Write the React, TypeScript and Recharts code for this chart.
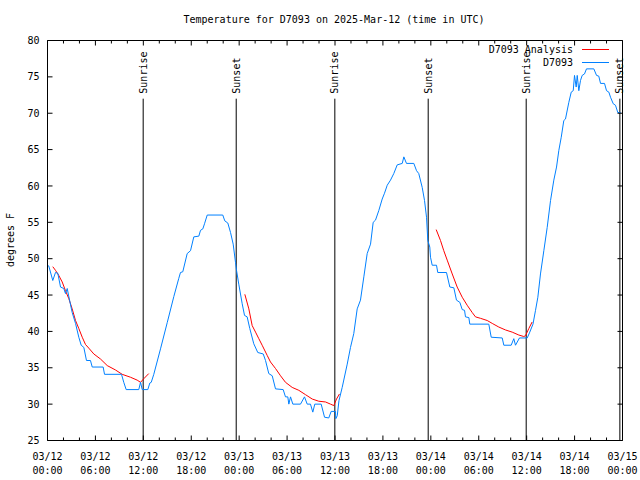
import React from "react";
import { LineChart, Line, XAxis, YAxis, ReferenceLine } from "recharts";

// hours since 03/12 00:00 UTC, temperature in degrees F
const stationHours = [
  0.0, 0.16, 0.66, 1.0, 1.29, 1.63, 2.04, 2.25, 2.47, 2.63, 3.09, 3.51, 3.92, 4.22, 4.55, 4.88, 5.38, 5.6,
  6.97, 7.14, 9.27, 9.55, 9.85, 11.43, 11.65, 11.86, 12.56, 12.81, 12.99, 13.31, 14.15, 14.99, 15.82, 16.44,
  16.65, 16.94, 17.49, 17.91, 18.32, 18.95, 19.16, 19.45, 19.66, 20.0, 21.95, 22.2, 22.58, 22.92, 23.25,
  23.54, 23.67, 23.95, 24.38, 24.67, 25.0, 25.33, 25.83, 26.33, 27.01, 27.3, 27.71, 28.14, 28.55, 29.51,
  29.8, 30.09, 30.22, 30.43, 30.72, 31.68, 32.18, 32.52, 32.93, 33.22, 33.47, 34.27, 34.69, 35.22, 35.52,
  36.06, 36.1, 36.28, 36.5, 36.9, 37.53, 37.94, 38.35, 38.78, 39.19, 39.61, 40.03, 40.45, 40.78, 41.07,
  41.48, 41.91, 42.2, 42.54, 42.95, 43.36, 43.79, 44.42, 44.62, 44.95, 45.87, 46.21, 46.49, 46.92, 47.21,
  47.46, 47.62, 47.87, 47.96, 48.17, 48.71, 48.87, 49.96, 50.38, 50.88, 51.21, 51.63, 51.93, 52.22, 52.34,
  52.76, 52.88, 55.26, 55.56, 56.94, 57.14, 58.06, 58.39, 58.6, 59.1, 60.07, 60.39, 60.79, 61.11, 61.4,
  61.73, 62.15, 62.57, 62.99, 63.4, 63.74, 64.03, 64.33, 64.65, 64.86, 65.28, 65.58, 65.83, 65.99, 66.2,
  66.33, 66.53, 66.74, 66.95, 67.24, 67.49, 68.41, 68.75, 69.03, 69.25, 69.75, 70.0, 70.29, 70.5, 70.84,
  71.12, 71.41, 71.75,
];
const stationTemps = [
  49.1, 49.0, 47.0, 48.1, 48.0, 46.1, 45.9, 45.2, 45.9, 45.0, 42.6, 41.1, 39.2, 38.1, 37.8, 36.0, 36.0, 35.1,
  35.1, 34.1, 34.1, 33.0, 32.0, 32.0, 33.0, 32.0, 32.0, 32.9, 33.0, 34.1, 37.6, 41.2, 44.8, 47.3,
  48.1, 48.2, 50.7, 51.1, 53.0, 53.1, 53.9, 54.1, 54.8, 56.0, 56.0, 55.2, 54.9, 53.6, 52.0,
  49.5, 48.4, 46.5, 43.8, 42.2, 42.0, 40.4, 38.3, 37.1, 36.9, 36.0, 34.2, 33.9, 32.1, 32.0,
  31.0, 31.0, 30.0, 31.0, 30.0, 30.0, 31.0, 30.0, 30.0, 28.9, 30.0, 30.0, 28.2, 28.1, 29.0,
  29.0, 28.0, 28.4, 30.5, 32.3, 35.5, 37.8, 39.7, 43.1, 44.3, 47.5, 50.7, 52.0, 55.0, 55.3,
  56.6, 58.2, 59.0, 60.1, 60.8, 61.7, 62.9, 63.1, 64.0, 63.1, 63.1, 62.1, 61.7, 59.8, 58.0,
  55.7, 52.5, 51.6, 50.2, 49.1, 49.1, 48.1, 48.1, 46.1, 46.0, 44.3, 44.0, 43.0, 42.9, 42.0,
  41.9, 41.0, 41.0, 39.2, 39.1, 38.1, 38.1, 39.0, 38.1, 39.1, 39.1, 39.9, 41.0, 42.9, 44.7,
  47.9, 51.1, 54.3, 58.0, 60.8, 62.6, 64.9, 66.7, 69.0, 69.2, 71.5, 72.9, 73.1, 75.2, 73.6,
  75.2, 73.1, 74.5, 75.2, 75.4, 76.1, 76.1, 75.2, 75.1, 74.1, 74.1, 73.1, 72.9, 72.2, 71.3,
  71.1, 70.1, 70.1,
];

// analysis runs, one per night
const analysisHours1 = [
  0.66, 1.0, 1.41, 1.84, 2.25, 2.67, 3.09, 3.51, 3.92, 4.35, 4.76, 5.17, 5.8, 6.64, 7.48, 8.51, 9.35, 10.39,
  11.23, 11.65, 12.06, 12.68,
];
const analysisTemps1 = [
  48.9, 48.4, 47.7, 46.8, 45.6, 44.5, 43.1, 41.5, 40.4, 39.2, 38.2, 37.7, 36.9, 36.2, 35.3, 34.7, 34.1, 33.7,
  33.3, 33.0, 33.5, 34.2,
];
const analysisHours2 = [
  24.71, 25.21, 25.63, 26.05, 26.46, 26.88, 27.51, 27.92, 28.55, 29.18, 29.8, 30.64, 31.47, 32.31, 33.15,
  33.97, 34.81, 35.44, 35.85, 36.19, 36.56,
];
const analysisTemps2 = [
  45.1, 43.1, 40.8, 39.9, 39.0, 38.1, 36.7, 35.8, 34.9, 33.9, 33.0, 32.3, 31.9, 31.3, 30.7,
  30.4, 30.3, 30.0, 29.8, 30.7, 31.4,
];
const analysisHours3 = [
  48.67, 49.21, 49.62, 50.05, 50.68, 51.3, 51.93, 52.55, 53.18, 53.59, 54.22, 55.06, 55.69, 56.51, 57.35,
  58.19, 59.02, 59.64, 59.85, 60.27, 60.69,
];
const analysisTemps3 = [
  54.0, 52.5, 51.1, 49.8, 47.9, 46.1, 44.7, 43.6, 42.6, 42.0, 41.8, 41.5, 41.1, 40.6, 40.2,
  39.9, 39.5, 39.3, 39.4, 40.4, 41.3,
];

const sunHours = [11.98, 23.63, 35.98, 47.67, 59.94, 71.67];
const sunLabels = ["Sunrise", "Sunset", "Sunrise", "Sunset", "Sunrise", "Sunset"];

const xTicks = [
  0, 2, 4, 6, 8, 10, 12, 14, 16, 18, 20, 22, 24, 26, 28, 30, 32, 34, 36, 38, 40, 42, 44, 46, 48, 50, 52, 54,
  56, 58, 60, 62, 64, 66, 68, 70, 72,
];
const yTicks = [25, 30, 35, 40, 45, 50, 55, 60, 65, 70, 75, 80];

const FONT = "DejaVu Sans Mono";
const BLUE = "#0080ff";
const RED = "#ff0000";
const MAJOR = 5;
const MINOR = 3;

const rows = (hours: number[], temps: number[]) => hours.map((h, i) => ({ h, t: temps[i] }));

const stationData = rows(stationHours, stationTemps);
const analysisSegments = [
  rows(analysisHours1, analysisTemps1),
  rows(analysisHours2, analysisTemps2),
  rows(analysisHours3, analysisTemps3),
];

function timeLabel(h: number): [string, string] {
  const day = 12 + Math.floor(h / 24);
  const hh = h % 24;
  return [`03/${day}`, `${String(hh).padStart(2, "0")}:00`];
}

const BottomTick = (props: any) => {
  const { x, y, payload } = props;
  const v = payload.value as number;
  const major = v % 6 === 0;
  const [d, t] = timeLabel(v);
  return (
    <g>
      <line x1={x} x2={x} y1={y} y2={y - (major ? MAJOR : MINOR)} stroke="#000" />
      {major && (
        <text x={x} y={y + 19} textAnchor="middle" fontFamily={FONT} fontSize={10} fill="#000">
          {d}
        </text>
      )}
      {major && (
        <text x={x} y={y + 33} textAnchor="middle" fontFamily={FONT} fontSize={10} fill="#000">
          {t}
        </text>
      )}
    </g>
  );
};

const TopTick = (props: any) => {
  const { x, y, payload } = props;
  const major = (payload.value as number) % 6 === 0;
  return <line x1={x} x2={x} y1={y} y2={y + (major ? MAJOR : MINOR)} stroke="#000" />;
};

const LeftTick = (props: any) => {
  const { x, y, payload } = props;
  return (
    <g>
      <line x1={x} x2={x + MAJOR} y1={y} y2={y} stroke="#000" />
      <text x={x - 8} y={y} dy="0.36em" textAnchor="end" fontFamily={FONT} fontSize={10} fill="#000">
        {payload.value}
      </text>
    </g>
  );
};

const RightTick = (props: any) => {
  const { x, y } = props;
  return <line x1={x} x2={x - MAJOR} y1={y} y2={y} stroke="#000" />;
};

const sunLabel = (text: string) => (props: any) => {
  const vb = props.viewBox || {};
  const x = vb.x ?? 0;
  const y = (vb.y ?? 0) - 5;
  return (
    <text
      x={x}
      y={y}
      transform={`rotate(-90 ${x} ${y})`}
      textAnchor="start"
      dominantBaseline="central"
      fontFamily={FONT}
      fontSize={10}
      fill="#000"
    >
      {text}
    </text>
  );
};

export default function App() {
  return (
    <div style={{ position: "absolute", left: 0, top: 0, width: 640, height: 480, background: "#fff" }}>
      <LineChart width={640} height={480} margin={{ top: 0, right: 0, bottom: 0, left: 0 }}>
        <XAxis
          dataKey="h"
          type="number"
          domain={[0, 72]}
          ticks={xTicks}
          interval={0}
          height={39.5}
          tickSize={0}
          tickMargin={0}
          tickLine={false}
          axisLine={{ stroke: "#000" }}
          tick={BottomTick}
          allowDataOverflow
        />
        <XAxis
          xAxisId="top"
          orientation="top"
          dataKey="h"
          type="number"
          domain={[0, 72]}
          ticks={xTicks}
          interval={0}
          height={40.5}
          tickSize={0}
          tickMargin={0}
          tickLine={false}
          axisLine={{ stroke: "#000" }}
          tick={TopTick}
          allowDataOverflow
        />
        <YAxis
          type="number"
          domain={[25, 80]}
          ticks={yTicks}
          interval={0}
          width={47.5}
          tickSize={0}
          tickMargin={0}
          tickLine={false}
          axisLine={{ stroke: "#000" }}
          tick={LeftTick}
          allowDataOverflow
        />
        <YAxis
          yAxisId="right"
          orientation="right"
          type="number"
          domain={[25, 80]}
          ticks={yTicks}
          interval={0}
          width={17.5}
          tickSize={0}
          tickMargin={0}
          tickLine={false}
          axisLine={{ stroke: "#000" }}
          tick={RightTick}
          allowDataOverflow
        />
        {sunHours.map((h, i) => (
          <ReferenceLine
            key={`sun-${i}`}
            segment={[
              { x: h, y: 25 },
              { x: h, y: 72 },
            ]}
            stroke="#000"
            strokeWidth={1}
            label={sunLabel(sunLabels[i])}
          />
        ))}
        {analysisSegments.map((seg, i) => (
          <Line
            key={`analysis-${i}`}
            data={seg}
            dataKey="t"
            type="linear"
            stroke={RED}
            strokeWidth={1}
            dot={false}
            isAnimationActive={false}
          />
        ))}
        <Line
          data={stationData}
          dataKey="t"
          type="linear"
          stroke={BLUE}
          strokeWidth={1}
          dot={false}
          isAnimationActive={false}
        />
      </LineChart>
      <svg
        width={640}
        height={480}
        style={{ position: "absolute", left: 0, top: 0, pointerEvents: "none" }}
        fontFamily={FONT}
        fontSize={10}
      >
        <text x={334} y={23} textAnchor="middle" fill="#000">
          Temperature for D7093 on 2025-Mar-12 (time in UTC)
        </text>
        <text x={10} y={240} transform="rotate(-90 10 240)" textAnchor="middle" dominantBaseline="central" fill="#000">
          degrees F
        </text>
        <text x={573} y={53} textAnchor="end" fill="#000">
          D7093 Analysis
        </text>
        <line x1={582} x2={609} y1={49.5} y2={49.5} stroke={RED} />
        <text x={573} y={66} textAnchor="end" fill="#000">
          D7093
        </text>
        <line x1={582} x2={609} y1={62.5} y2={62.5} stroke={BLUE} />
      </svg>
    </div>
  );
}
